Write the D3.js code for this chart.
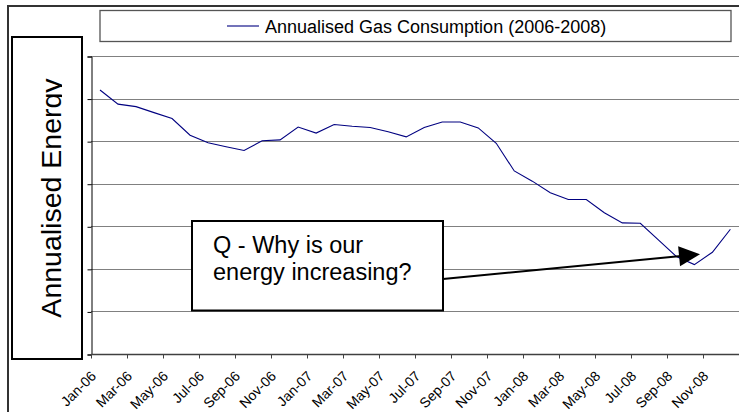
<!DOCTYPE html>
<html>
<head>
<meta charset="utf-8">
<script src="https://cdn.jsdelivr.net/npm/d3@7"></script>
<style>
  html, body { margin: 0; padding: 0; background: #fff; }
  svg { display: block; }
  text { font-family: Arial, "Liberation Sans", sans-serif; }
</style>
</head>
<body>
<svg id="chart" width="739" height="412"></svg>
<script>
// ---- data ----
const months = [
  "Jan-06","Feb-06","Mar-06","Apr-06","May-06","Jun-06","Jul-06","Aug-06","Sep-06","Oct-06","Nov-06","Dec-06",
  "Jan-07","Feb-07","Mar-07","Apr-07","May-07","Jun-07","Jul-07","Aug-07","Sep-07","Oct-07","Nov-07","Dec-07",
  "Jan-08","Feb-08","Mar-08","Apr-08","May-08","Jun-08","Jul-08","Aug-08","Sep-08","Oct-08","Nov-08","Dec-08"
];
const gasValues = [
  6.20, 5.87, 5.81, 5.67, 5.53, 5.14, 4.96, 4.87, 4.78, 5.01, 5.03, 5.33,
  5.19, 5.39, 5.35, 5.32, 5.22, 5.10, 5.32, 5.45, 5.45, 5.31, 4.95, 4.30,
  4.06, 3.79, 3.63, 3.63, 3.32, 3.08, 3.07, 2.68, 2.29, 2.10, 2.39, 2.93
];
const yTicks = [0, 1, 2, 3, 4, 5, 6, 7];
const tickLabels = months.filter((m, i) => i % 2 === 0);
const seriesName = "Annualised Gas Consumption (2006-2008)";
const yTitle = "Annualised Energy";
const noteLines = ["Q - Why is our", "energy increasing?"];

// ---- layout ----
const svg = d3.select("#chart");
const plot = { left: 91, right: 739.4, top: 56, bottom: 354 };

const x = d3.scaleBand().domain(months).range([plot.left, plot.right]).padding(0);
const y = d3.scaleLinear().domain([0, 7]).range([plot.bottom, plot.top]);

// outer chart frame
svg.append("path")
  .attr("d", "M8,412 L8,6 L739,6")
  .attr("fill", "none").attr("stroke", "#333").attr("stroke-width", 2);

// gridlines
svg.append("g").selectAll("line")
  .data(yTicks.filter(t => t > 0))
  .join("line")
  .attr("x1", plot.left).attr("x2", plot.right)
  .attr("y1", d => Math.round(y(d)) + 0.5).attr("y2", d => Math.round(y(d)) + 0.5)
  .attr("stroke", "#808080").attr("stroke-width", 1);

// y axis (no labels)
const yAxis = d3.axisLeft(y).tickValues(yTicks).tickSize(4).tickFormat("");
const gy = svg.append("g").attr("transform", `translate(${plot.left + 0.5},0.5)`).call(yAxis);
gy.select(".domain").attr("stroke", "#000");
gy.selectAll(".tick line").attr("stroke", "#000");

// x axis
const boundaryScale = d3.scaleLinear().domain([0, months.length]).range([plot.left, plot.right]);
const tickPositions = d3.range(0, months.length + 1, 2);
const gx = svg.append("g").attr("transform", `translate(0,${plot.bottom})`);
gx.append("line")
  .attr("x1", plot.left).attr("x2", plot.right).attr("y1", 0.5).attr("y2", 0.5)
  .attr("stroke", "#404040").attr("stroke-width", 1.5);
gx.selectAll("line.tick")
  .data(tickPositions)
  .join("line").attr("class", "tick")
  .attr("x1", d => Math.round(boundaryScale(d)) + 0.5)
  .attr("x2", d => Math.round(boundaryScale(d)) + 0.5)
  .attr("y1", 0).attr("y2", 4.5)
  .attr("stroke", "#404040").attr("stroke-width", 1);
gx.selectAll("text")
  .data(tickLabels)
  .join("text")
  .attr("transform", d => `translate(${x(d) + x.bandwidth() / 2 - 3},${23}) rotate(-45)`)
  .attr("text-anchor", "end")
  .attr("font-size", "14px")
  .attr("fill", "#000")
  .text(d => d);

// data line
const line = d3.line()
  .x((d, i) => x(months[i]) + x.bandwidth() / 2)
  .y(d => y(d));
svg.append("path")
  .datum(gasValues)
  .attr("d", line)
  .attr("fill", "none")
  .attr("stroke", "#000080")
  .attr("stroke-width", 1.1);

// legend
svg.append("rect")
  .attr("x", 100).attr("y", 10.5).attr("width", 631).attr("height", 31)
  .attr("fill", "#fff").attr("stroke", "#555").attr("stroke-width", 1.3);
svg.append("line")
  .attr("x1", 227).attr("x2", 259).attr("y1", 26).attr("y2", 26)
  .attr("stroke", "#000080").attr("stroke-width", 1.1);
svg.append("text")
  .attr("x", 265).attr("y", 32.5)
  .attr("font-size", "18px").attr("fill", "#000")
  .text(seriesName);

// y title box
svg.append("rect")
  .attr("x", 12).attr("y", 37).attr("width", 70).attr("height", 322)
  .attr("fill", "#fff").attr("stroke", "#000").attr("stroke-width", 2);
svg.append("clipPath").attr("id", "ytclip")
  .append("rect").attr("x", 13).attr("y", 38).attr("width", 49).attr("height", 320);
svg.append("g")
  .attr("clip-path", "url(#ytclip)")
  .append("text")
  .attr("transform", "translate(61,198) rotate(-90)")
  .attr("text-anchor", "middle")
  .attr("font-size", "28.5px").attr("fill", "#000")
  .text(yTitle);

// annotation box
svg.append("rect")
  .attr("x", 192).attr("y", 221).attr("width", 251).attr("height", 89.5)
  .attr("fill", "#fff").attr("stroke", "#000").attr("stroke-width", 2);
svg.append("g").selectAll("text")
  .data(noteLines)
  .join("text")
  .attr("x", 213).attr("y", (d, i) => 253 + i * 27)
  .attr("font-size", "23.5px").attr("fill", "#000")
  .text(d => d);

// arrow
const start = [443, 279], tip = [700, 254.3];
const dx = tip[0] - start[0], dy = tip[1] - start[1];
const len = Math.hypot(dx, dy), ux = dx / len, uy = dy / len;
const headLen = 21, headHalf = 10;
const base = [tip[0] - ux * headLen, tip[1] - uy * headLen];
svg.append("line")
  .attr("x1", start[0]).attr("y1", start[1])
  .attr("x2", base[0] + ux * 2).attr("y2", base[1] + uy * 2)
  .attr("stroke", "#000").attr("stroke-width", 2);
svg.append("path")
  .attr("d", `M${tip[0]},${tip[1]} L${base[0] - uy * headHalf},${base[1] + ux * headHalf} L${base[0] + uy * headHalf},${base[1] - ux * headHalf} Z`)
  .attr("fill", "#000");
</script>
</body>
</html>
